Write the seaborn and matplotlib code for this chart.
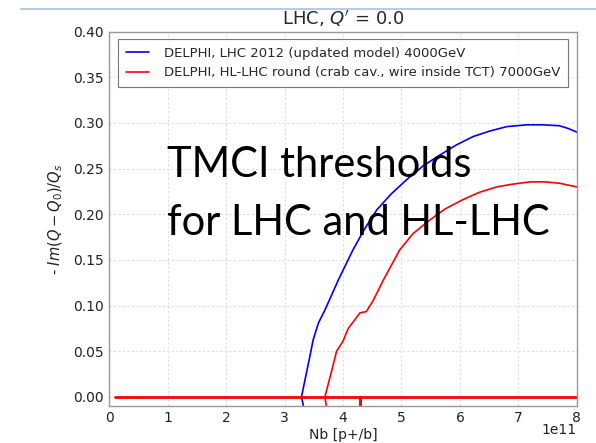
import matplotlib
matplotlib.use("Agg")
import matplotlib.pyplot as plt
import seaborn as sns
import pandas as pd
from matplotlib.lines import Line2D

# ---- data ----
lhc_label = "DELPHI, LHC 2012 (updated model) 4000GeV"
hllhc_label = "DELPHI, HL-LHC round (crab cav., wire inside TCT) 7000GeV"

lhc_nb = [3.33, 3.29, 3.35, 3.41, 3.49, 3.58, 3.69, 3.92, 4.17, 4.37, 4.58, 4.82, 5.09, 5.37, 5.66, 5.94,
          6.22, 6.50, 6.80, 7.15, 7.40, 7.70, 7.85, 8.00]
lhc_im = [-0.012, 0.0, 0.0186, 0.037, 0.0625, 0.081, 0.095, 0.128, 0.161, 0.184, 0.205, 0.222, 0.238, 0.253,
          0.265, 0.276, 0.285, 0.291, 0.296, 0.298, 0.298, 0.297, 0.294, 0.290]

hl_nb = [3.72, 3.69, 3.78, 3.89, 4.00, 4.09, 4.29, 4.40, 4.52, 4.69, 4.97, 5.20, 5.49, 5.75, 6.05, 6.33,
         6.63, 6.90, 7.20, 7.45, 7.70, 8.00]
hl_im = [-0.012, 0.0, 0.022, 0.050, 0.061, 0.075, 0.092, 0.0935, 0.106, 0.128, 0.161, 0.179, 0.194, 0.206,
         0.216, 0.224, 0.230, 0.233, 0.2355, 0.2355, 0.234, 0.230]

zero_nb = [0.1, 4.29, 4.29, 4.29, 8.0]
zero_im = [0.0, 0.0, -0.02, 0.0, 0.0]

xticks = [0, 1, 2, 3, 4, 5, 6, 7, 8]
yticks = [0.00, 0.05, 0.10, 0.15, 0.20, 0.25, 0.30, 0.35, 0.40]

sns.set_style("white")
plt.rcParams["font.family"] = ["DejaVu Sans"]

fig = plt.figure(figsize=(5.96, 4.43), dpi=100)
ax = fig.add_axes([0.183, 0.0835, 0.785, 0.845])

df_lhc = pd.DataFrame({"nb": lhc_nb, "im": lhc_im})
df_hl = pd.DataFrame({"nb": hl_nb, "im": hl_im})
df_zero = pd.DataFrame({"nb": zero_nb, "im": zero_im})

sns.lineplot(data=df_lhc, x="nb", y="im", sort=False, estimator=None, color="#0000ff", lw=1.2, ax=ax)
sns.lineplot(data=df_hl, x="nb", y="im", sort=False, estimator=None, color="#ff0000", lw=1.2, ax=ax)
sns.lineplot(data=df_zero, x="nb", y="im", sort=False, estimator=None, color="#ff0000", lw=2.0, ax=ax)

ax.set_xlim(0, 8)
ax.set_ylim(-0.01, 0.40)
ax.set_xticks(xticks)
ax.set_xticklabels([str(t) for t in xticks])
ax.set_yticks(yticks)
ax.set_yticklabels([f"{t:.2f}" for t in yticks])
ax.tick_params(labelsize=10, direction="in", length=3, color="#888888", colors="#222222")
ax.grid(True, color="#dddddd", linestyle=(0, (2, 2)), lw=0.8)
for s in ax.spines.values():
    s.set_color("#999999")
    s.set_linewidth(1.0)

ax.set_xlabel("Nb [p+/b]", fontsize=10, labelpad=2, color="#222222")
ax.set_ylabel("- $Im(Q-Q_0)/Q_s$", fontsize=10.5, color="#222222", labelpad=6)
ax.set_title("LHC, $Q'$ = 0.0", fontsize=13, pad=5)
ax.text(1.0, -0.064, "1e11", transform=ax.transAxes, ha="right", va="center", fontsize=10, color="#222222")

handles = [Line2D([], [], color="#0000ff", lw=1.2), Line2D([], [], color="#ff0000", lw=1.2)]
leg = ax.legend(handles, [lhc_label, hllhc_label], loc="upper center", bbox_to_anchor=(0.5, 0.981),
                borderaxespad=0, fontsize=9.5, frameon=True, fancybox=False, handlelength=1.75,
                handletextpad=1.1, borderpad=0.6, labelspacing=0.5)
leg.get_frame().set_edgecolor("#555555")
leg.get_frame().set_linewidth(0.8)

fig.text(167 / 596, 1 - 177 / 443, "TMCI thresholds", fontsize=30,
         family=["Lato", "DejaVu Sans"], ha="left", va="baseline", color="black")
fig.text(167 / 596, 1 - 235 / 443, "for LHC and HL-LHC", fontsize=30,
         family=["Lato", "DejaVu Sans"], ha="left", va="baseline", color="black")

fig.add_artist(Line2D([21 / 596, 1.0], [1 - 8.5 / 443, 1 - 8.5 / 443], transform=fig.transFigure,
                      color="#b4cde6", lw=1.5))

fig.savefig("out.png", dpi=100)
